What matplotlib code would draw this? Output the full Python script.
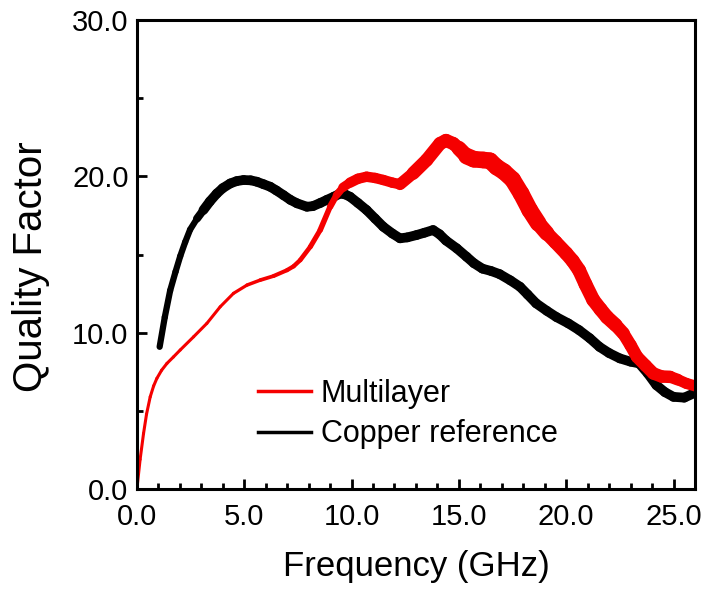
import matplotlib.pyplot as plt
import numpy as np
from matplotlib.collections import LineCollection
from matplotlib.lines import Line2D

plt.rcParams['font.family'] = ['Liberation Sans', 'DejaVu Sans']

# valores (frecuencia en GHz, factor de calidad)
freq_cu = [1.06, 1.3, 1.55, 1.8, 2.02, 2.25, 2.48, 2.8, 3.1, 3.4, 3.72, 4.0, 4.35, 4.65,
           4.97, 5.3, 5.59, 5.9, 6.21, 6.5, 6.83, 7.15, 7.46, 7.92, 8.2, 8.54, 8.85,
           9.17, 9.46, 9.7, 9.93, 10.3, 10.7, 11.1, 11.48, 11.9, 12.26, 12.6, 13.03,
           13.4, 13.8, 14.1, 14.4, 14.9, 15.36, 15.7, 16.1, 16.5, 16.9, 17.4, 17.85,
           18.2, 18.6, 19.1, 19.55, 20.1, 20.6, 21.1, 21.55, 22.0, 22.5, 23.0, 23.4,
           23.8, 24.2, 24.6, 25.0, 25.5, 25.9]
q_cu = [9.1, 11.0, 12.7, 13.9, 14.9, 15.8, 16.6, 17.3, 17.85, 18.4, 18.9, 19.25, 19.55,
        19.7, 19.77, 19.75, 19.66, 19.5, 19.34, 19.1, 18.8, 18.5, 18.28, 18.06, 18.1,
        18.3, 18.5, 18.7, 18.9, 18.85, 18.7, 18.3, 17.85, 17.3, 16.78, 16.35, 16.04,
        16.1, 16.25, 16.4, 16.57, 16.3, 15.9, 15.4, 14.86, 14.45, 14.1, 13.95, 13.75,
        13.35, 12.94, 12.45, 11.88, 11.4, 11.0, 10.6, 10.17, 9.65, 9.1, 8.7, 8.36,
        8.15, 8.04, 7.4, 6.65, 6.2, 5.9, 5.85, 6.1]

freq_ml = [0.0, 0.15, 0.31, 0.45, 0.62, 0.78, 0.93, 1.15, 1.4, 1.7, 2.02, 2.64, 3.26,
           3.88, 4.5, 5.13, 5.75, 6.37, 6.99, 7.3, 7.61, 8.08, 8.54, 9.0, 9.3, 9.6,
           9.93, 10.3, 10.7, 11.1, 11.48, 11.9, 12.26, 12.87, 13.5, 14.12, 14.4, 14.74,
           15.0, 15.36, 15.7, 16.14, 16.45, 16.76, 17.1, 17.5, 17.9, 18.3, 18.7, 19.1,
           19.5, 20.0, 20.3, 20.6, 20.9, 21.26, 21.6, 21.9, 22.3, 22.66, 23.0, 23.3,
           23.7, 24.06, 24.45, 24.84, 25.2, 25.6, 26.0]
q_ml = [0.0, 1.9, 3.56, 4.8, 5.9, 6.6, 7.08, 7.6, 8.04, 8.45, 8.9, 9.74, 10.6, 11.66,
        12.52, 13.05, 13.37, 13.63, 14.0, 14.25, 14.65, 15.5, 16.57, 18.06, 18.8, 19.3,
        19.6, 19.85, 19.98, 19.9, 19.77, 19.6, 19.5, 20.2, 21.05, 22.1, 22.3, 22.1,
        21.8, 21.3, 21.1, 21.05, 21.0, 20.6, 20.3, 19.8, 18.9, 17.85, 17.0, 16.36,
        15.8, 15.08, 14.6, 14.0, 13.1, 12.1, 11.5, 11.0, 10.5, 9.96, 9.2, 8.46, 7.9,
        7.4, 7.2, 7.18, 7.0, 6.76, 6.6]

# grosor aparente de cada banda (ruido de la medida)
w_cu = [4.5] * 8 + [7.0] * 61
w_ml = [2.2] * 15 + [2.4, 2.6, 2.8, 3.0, 3.1, 3.2, 3.5, 3.8, 4.2, 5.0, 6.0] + \
       [7.5] * 7 + [9.5] * 6 + [12] * 10 + [10] * 10 + [9] * 7 + [8] * 4


def banda(ax, x, y, w, color):
    pts = np.column_stack([x, y]).reshape(-1, 1, 2)
    segs = np.concatenate([pts[:-1], pts[1:]], axis=1)
    anchos = [(w[i] + w[i + 1]) / 2 for i in range(len(w) - 1)]
    lc = LineCollection(segs, linewidths=anchos, colors=color, capstyle='round',
                        joinstyle='round')
    ax.add_collection(lc)


fig = plt.figure(figsize=(7.02, 5.90), dpi=100)
ax = fig.add_axes([0.195, 0.171, 0.795, 0.795])

banda(ax, freq_cu, q_cu, w_cu, 'black')
banda(ax, freq_ml, q_ml, w_ml, '#f50000')

ax.set_xlim(0, 26)
ax.set_ylim(0, 30)
ax.set_xticks([0, 5, 10, 15, 20, 25])
ax.set_xticks(np.arange(0, 26, 1), minor=True)
ax.set_yticks([0, 10, 20, 30])
ax.set_yticks([5, 15, 25], minor=True)
ax.set_xticklabels(['0.0', '5.0', '10.0', '15.0', '20.0', '25.0'])
ax.set_yticklabels(['0.0', '10.0', '20.0', '30.0'])

ax.tick_params(which='both', direction='in', width=2, labelsize=21, top=False, right=False)
ax.tick_params(which='major', length=7)
ax.tick_params(which='minor', length=4)
ax.tick_params(axis='x', which='major', pad=10)
ax.tick_params(axis='y', which='major', pad=6)
for s in ax.spines.values():
    s.set_linewidth(2.2)

ax.set_xlabel('Frequency (GHz)', fontsize=25, labelpad=14)
ax.set_ylabel('Quality Factor', fontsize=29)
ax.yaxis.set_label_coords(-0.155, 0.475)

handles = [Line2D([], [], color='#f50000', lw=2.5), Line2D([], [], color='black', lw=2.5)]
ax.legend(handles, ['Multilayer', 'Copper reference'], loc='lower left',
          bbox_to_anchor=(0.217, 0.085), frameon=False, fontsize=22, handlelength=1.75,
          handletextpad=0.3, labelspacing=0.35, borderpad=0, borderaxespad=0)

fig.savefig('out.png', dpi=100)
